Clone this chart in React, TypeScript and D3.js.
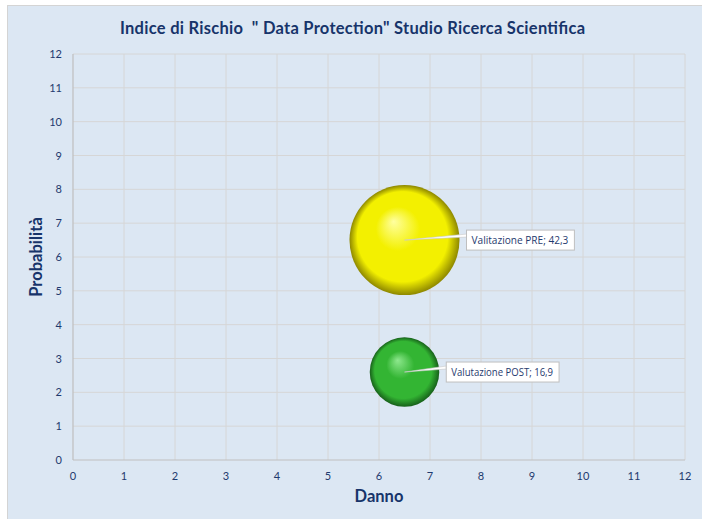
import * as d3 from 'd3'

const title = 'Indice di Rischio  " Data Protection" Studio Ricerca Scientifica'
const xTitle = 'Danno'
const yTitle = 'Probabilità'

const seriesNames = ['Valitazione PRE', 'Valutazione POST']
const danno = [6.5, 6.5]
const probabilita = [6.5, 2.6]
const indice = [42.3, 16.9]
const ticks = [0, 1, 2, 3, 4, 5, 6, 7, 8, 9, 10, 11, 12]

const palette = [
  { hi: '#ffffa0', mid: '#f3f000', lo: '#8e8800' },
  { hi: '#8ee88e', mid: '#33b533', lo: '#17601a' },
]

export default function App() {
  const width = 702
  const height = 519
  const marginLeft = 73
  const marginRight = 17
  const marginTop = 54
  const marginBottom = 59

  const x = d3.scaleLinear([0, 12], [marginLeft, width - marginRight])
  const y = d3.scaleLinear([0, 12], [height - marginBottom, marginTop])
  // bubble area proportional to value
  const r = d3.scaleSqrt([0, 42.3], [0, 55])

  const navy = '#1f3a6e'
  const font = 'Lato, "Open Sans", sans-serif'

  return (
    <svg
      width={width}
      height={height}
      style={{ position: 'absolute', left: 0, top: 0 }}
      fontFamily={font}
    >
      <defs>
        {palette.map((p, i) => (
          <radialGradient key={i} id={`ball${i}`} cx="0.5" cy="0.5" r="0.5" fx="0.4" fy="0.33">
            <stop offset="0%" stopColor={p.hi} />
            <stop offset="40%" stopColor={p.mid} />
            <stop offset="82%" stopColor={p.mid} />
            <stop offset="100%" stopColor={p.lo} />
          </radialGradient>
        ))}
      </defs>
      <rect x={7.5} y={5.5} width={width} height={height} fill="#dce7f3" stroke="#d4d4d4" />

      <text
        x={352.5}
        y={34}
        textAnchor="middle"
        fontSize={16.5}
        fontWeight="bold"
        fill="#17346a"
        textLength={465}
        lengthAdjust="spacing"
        style={{ whiteSpace: 'pre' }}
      >
        {title}
      </text>

      {/* grid */}
      <g stroke="#d6d6d6" strokeWidth={1}>
        {ticks.slice(1).map((t) => (
          <line key={'v' + t} x1={x(t)} x2={x(t)} y1={y(0)} y2={y(12)} />
        ))}
        {ticks.slice(1).map((t) => (
          <line key={'h' + t} x1={x(0)} x2={x(12)} y1={y(t)} y2={y(t)} />
        ))}
      </g>
      <g stroke="#bfbfbf" strokeWidth={1.2}>
        <line x1={x(0)} x2={x(0)} y1={y(0)} y2={y(12)} />
        <line x1={x(0)} x2={x(12)} y1={y(0)} y2={y(0)} />
      </g>

      <g fontSize={11} fill={navy}>
        {ticks.map((t) => (
          <text key={'xt' + t} x={x(t)} y={y(0) + 20} textAnchor="middle">
            {t}
          </text>
        ))}
        {ticks.map((t) => (
          <text key={'yt' + t} x={x(0) - 11} y={y(t) + 4} textAnchor="end">
            {t}
          </text>
        ))}
      </g>

      <text x={(x(0) + x(12)) / 2} y={502} textAnchor="middle" fontSize={16.5} fontWeight="bold" fill="#17346a">
        {xTitle}
      </text>
      <text
        transform={`translate(42,${(y(0) + y(12)) / 2}) rotate(-90)`}
        textAnchor="middle"
        fontSize={16.5}
        fontWeight="bold"
        fill="#17346a"
      >
        {yTitle}
      </text>

      {seriesNames.map((name, i) => {
        const cx = x(danno[i])
        const cy = y(probabilita[i])
        return (
          <circle key={name} cx={cx} cy={cy} r={r(indice[i])} fill={`url(#ball${i})`} />
        )
      })}

      {seriesNames.map((name, i) => {
        const cx = x(danno[i])
        const cy = y(probabilita[i])
        const label = `${name}; ${d3.format('.1f')(indice[i]).replace('.', ',')}`
        const bx = cx + r(indice[i]) + 7
        const by = cy - 10
        const bw = label.length * 4.9 + 5
        return (
          <g key={'l' + name}>
            <path
              d={`M${cx},${cy} L${bx},${by + 4} L${bx},${by + 7} Z`}
              fill="#ffffff"
              stroke="#c8c8c8"
              strokeWidth={0.6}
            />
            <rect x={bx} y={by} width={bw} height={20} fill="#ffffff" stroke="#bfbfbf" />
            <text
              x={bx + 5}
              y={by + 14}
              fontSize={10}
              fontFamily='"Open Sans", sans-serif'
              fill={navy}
              textLength={bw - 11}
              lengthAdjust="spacingAndGlyphs"
            >
              {label}
            </text>
          </g>
        )
      })}
    </svg>
  )
}
